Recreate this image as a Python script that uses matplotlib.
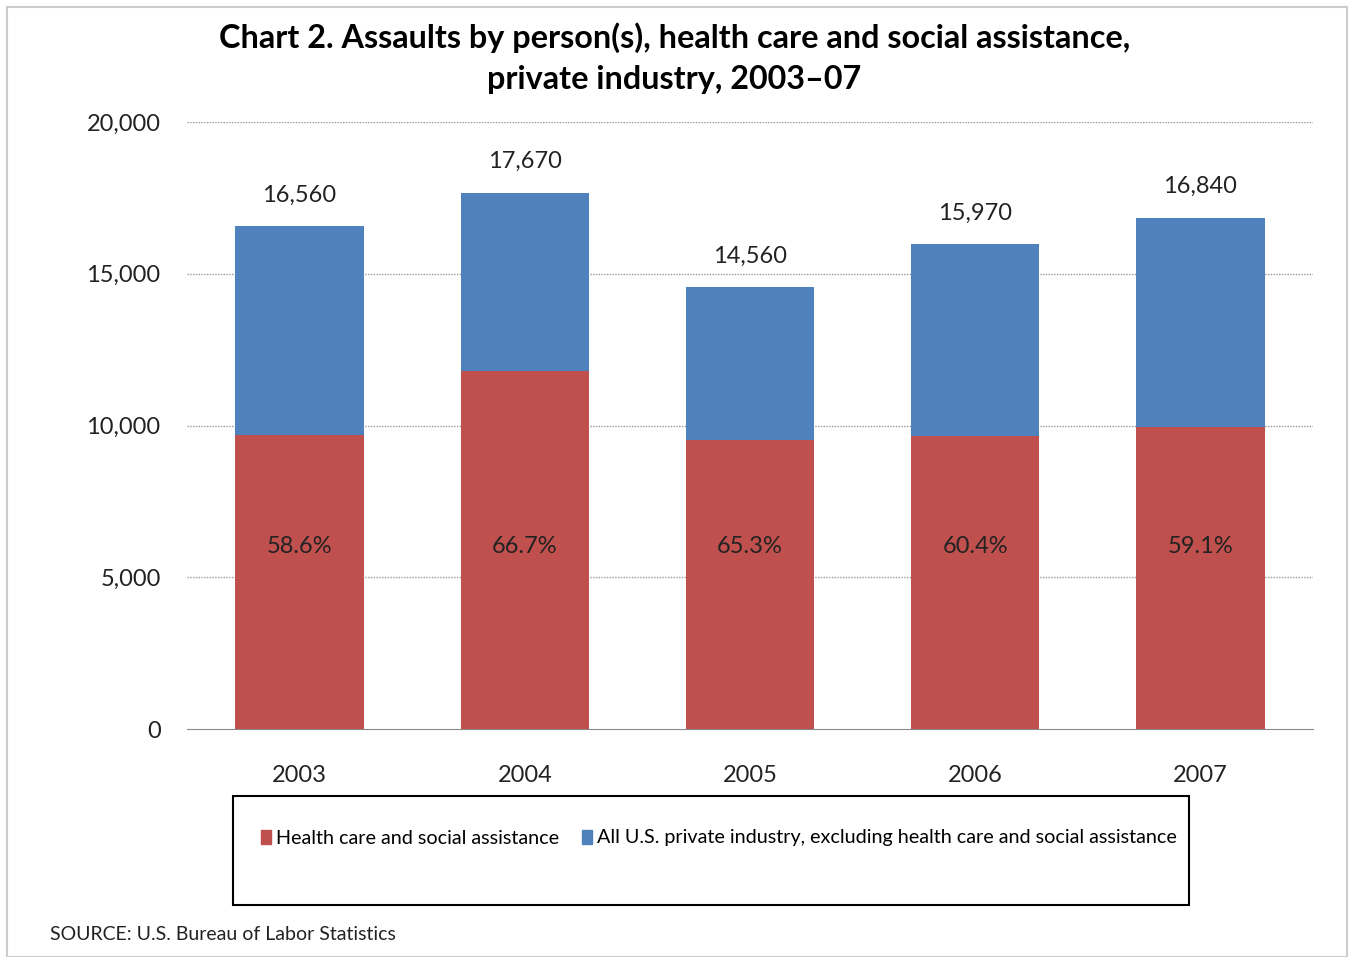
import matplotlib.pyplot as plt
from matplotlib.patches import Rectangle, Patch

years = ["2003", "2004", "2005", "2006", "2007"]
totals = [16560, 17670, 14560, 15970, 16840]
health_pct = [58.6, 66.7, 65.3, 60.4, 59.1]

health = [t * p / 100 for t, p in zip(totals, health_pct)]
others = [t - h for t, h in zip(totals, health)]

RED = "#C0504D"
BLUE = "#4F81BD"
FONT = "Lato"
TXT = "#222222"

fig = plt.figure(figsize=(13.49, 9.57), dpi=100)
ax = fig.add_axes([0.1386, 0.2382, 0.8347, 0.6343])

x = range(len(years))
ax.bar(x, health, width=0.57, color=RED, zorder=3)
ax.bar(x, others, width=0.57, bottom=health, color=BLUE, zorder=3)

for i in x:
    ax.text(i, totals[i] + 1030, f"{totals[i]:,}", ha="center", va="center",
            fontsize=17, family=FONT, color=TXT)
    ax.text(i, 6000, f"{health_pct[i]:.1f}%", ha="center", va="center",
            fontsize=17, family=FONT, color=TXT)

ax.set_xlim(-0.5, 4.5)
ax.set_ylim(0, 20000)
ax.set_yticks([0, 5000, 10000, 15000, 20000])
ax.set_yticklabels([f"{v:,}" for v in [0, 5000, 10000, 15000, 20000]],
                   fontsize=17, family=FONT, color=TXT)
ax.set_xticks(list(x))
ax.set_xticklabels(years, fontsize=17, family=FONT, color=TXT)
ax.tick_params(length=0)
ax.tick_params(axis="y", pad=19)
ax.tick_params(axis="x", pad=26)
for v in [5000, 10000, 15000, 20000]:
    ax.axhline(v, color="#999999", linestyle=(0, (1, 1)), linewidth=1, zorder=1)
for side in ["left", "right", "top"]:
    ax.spines[side].set_visible(False)
ax.spines["bottom"].set_color("#888888")

fig.text(0.5, 0.961, "Chart 2. Assaults by person(s), health care and social assistance,",
         ha="center", va="center", fontsize=23.3, fontweight="bold", family=FONT)
fig.text(0.5, 0.917, "private industry, 2003\u201307",
         ha="center", va="center", fontsize=23.3, fontweight="bold", family=FONT)

# legend box and entries
fig.patches.append(Rectangle((233 / 1349, 1 - 905 / 957), 956 / 1349, 109 / 957,
                             transform=fig.transFigure, fill=False,
                             edgecolor="black", linewidth=1.5))
handles = [Patch(color=RED, label="Health care and social assistance"),
           Patch(color=BLUE, label="All U.S. private industry, excluding health care and social assistance")]
fig.legend(handles=handles, loc="center", bbox_to_anchor=(719 / 1349, 1 - 838 / 957),
           ncol=2, frameon=False, prop={"family": FONT, "size": 14.2},
           handlelength=0.5, handleheight=0.7, handletextpad=0.25, columnspacing=1.2)

fig.text(50 / 1349, 1 - 934 / 957, "SOURCE: U.S. Bureau of Labor Statistics",
         ha="left", va="center", fontsize=14, family=FONT, color=TXT)

# outer frame
fig.patches.append(Rectangle((7 / 1349, 0), 1340 / 1349, 1 - 7 / 957,
                             transform=fig.transFigure, fill=False,
                             edgecolor="#cccccc", linewidth=1.5))

fig.savefig("out.png", dpi=100)
